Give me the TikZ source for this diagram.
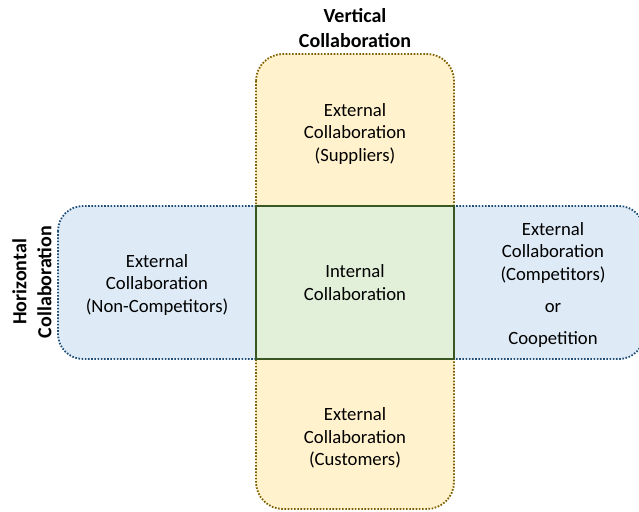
\documentclass[tikz,border=0pt]{standalone}
\usepackage{fontspec}
\setmainfont{Carlito}
\definecolor{yfill}{HTML}{FFF2CC}
\definecolor{ydraw}{HTML}{7F6000}
\definecolor{bfill}{HTML}{DEEBF7}
\definecolor{bdraw}{HTML}{1F4E79}
\definecolor{gfill}{HTML}{E2F0D9}
\definecolor{gdraw}{HTML}{385723}
\tikzset{
  dotline/.style={line width=1.8pt, dash pattern=on 1.6pt off 1.6pt},
  txt/.style={align=center, font=\fontsize{18.7}{22.7}\selectfont, inner sep=0pt},
  ttl/.style={align=center, font=\fontsize{20}{25}\selectfont\bfseries, inner sep=0pt},
}
\begin{document}
\begin{tikzpicture}[x=1pt,y=-1pt]
\useasboundingbox (0,0) rectangle (639,511);
\clip (0,0) rectangle (639,511);
\draw[dotline, draw=ydraw, fill=yfill, rounded corners=27pt] (256,54) rectangle (454,509);
\draw[dotline, draw=bdraw, fill=bfill, rounded corners=25pt] (58,206) rectangle (644,359);
\node[draw=gdraw, fill=gfill, line width=1.8pt, minimum width=198pt, minimum height=153pt, inner sep=0pt] (int) at (355,282.5) {};
\node[txt] (inttxt) at (int.center) {Internal\\Collaboration};
\node[txt] (sup) at (355,134) {External\\Collaboration\\(Suppliers)};
\node[txt] (cus) at (355,438) {External\\Collaboration\\(Customers)};
\node[txt] (non) at (157,285) {External\\Collaboration\\(Non-Competitors)};
\node[txt] (com) at (553,253) {External\\Collaboration\\(Competitors)};
\node[txt, anchor=base] (or) at (553,312) {or};
\node[txt, anchor=base] (coop) at (553,344) {Coopetition};
\node[ttl] (vert) at (355,28) {Vertical\\Collaboration};
\node[ttl, rotate=90] (hor) at (32,282) {Horizontal\\Collaboration};
\end{tikzpicture}
\end{document}
